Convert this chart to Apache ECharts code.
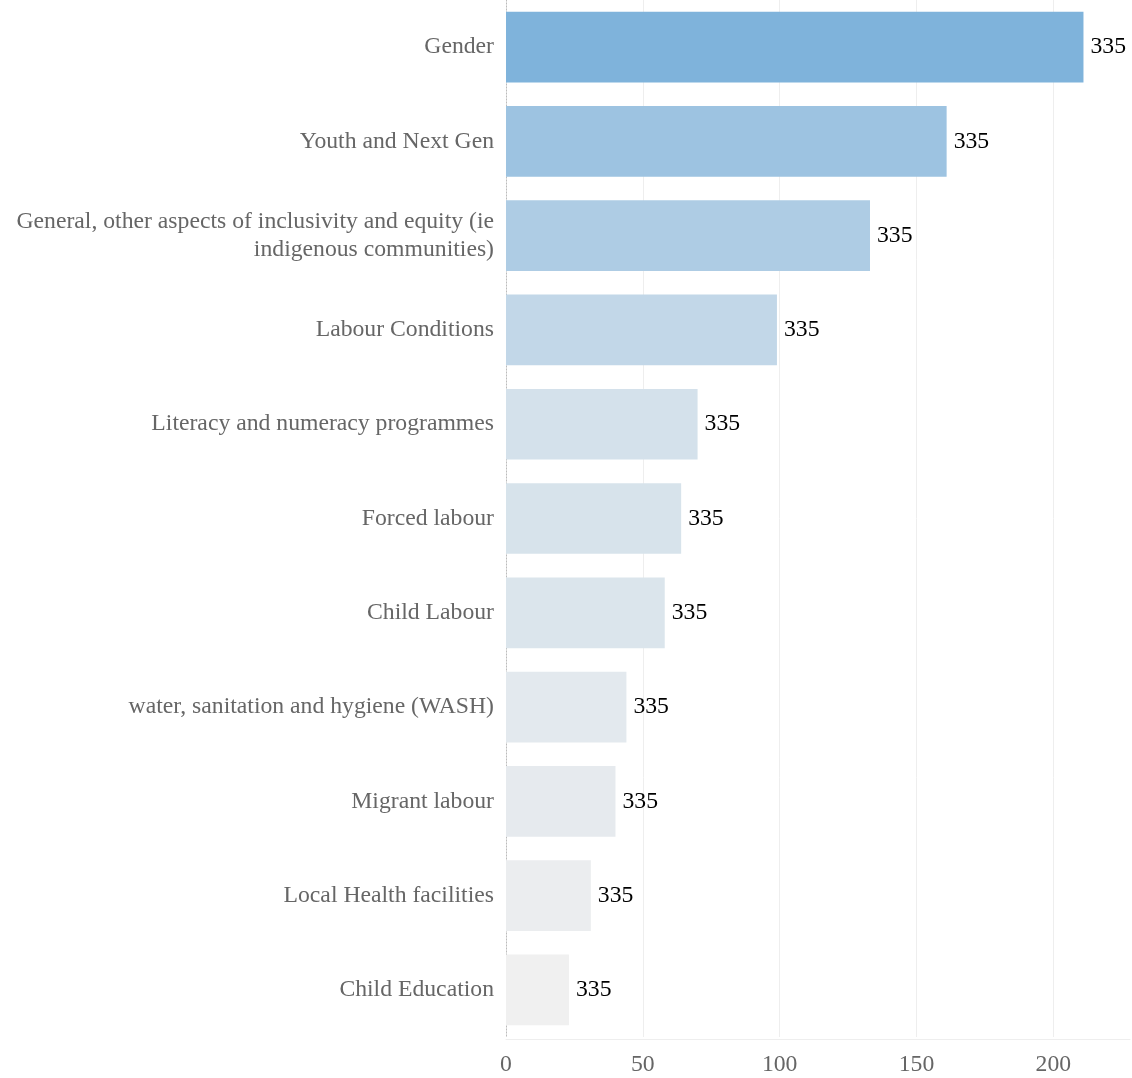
<!DOCTYPE html>
<html>
<head>
<meta charset="utf-8">
<title>Social topics</title>
<script src="https://cdn.jsdelivr.net/npm/echarts@6/dist/echarts.min.js"></script>
<style>
  html, body { margin: 0; padding: 0; background: #fff; }
  #chart { width: 1132px; height: 1078px; }
</style>
</head>
<body>
<div id="chart"></div>
<script>
// Topics, top to bottom
const categories = [
  'Gender',
  'Youth and Next Gen',
  'General, other aspects of inclusivity and equity (ie\nindigenous communities)',
  'Labour Conditions',
  'Literacy and numeracy programmes',
  'Forced labour',
  'Child Labour',
  'water, sanitation and hygiene (WASH)',
  'Migrant labour',
  'Local Health facilities',
  'Child Education'
];

// Bar lengths
const values = [211, 161, 133, 99, 70, 64, 58, 44, 40, 31, 23];

// Text printed at the end of each bar
const barLabels = ['335', '335', '335', '335', '335', '335', '335', '335', '335', '335', '335'];

// Value axis ticks
const xTicks = [0, 50, 100, 150, 200];

const chart = echarts.init(document.getElementById('chart'));
const font = '"Liberation Serif", "Times New Roman", serif';

chart.setOption({
  animation: false,
  grid: { left: 506, right: 2, top: -2, bottom: 41, containLabel: false },
  visualMap: {
    show: false,
    type: 'continuous',
    dimension: 0,
    min: Math.min(...values),
    max: Math.max(...values),
    inRange: { color: ['#f0f0f0', '#7fb3db'] }
  },
  xAxis: {
    type: 'value',
    min: 0,
    max: 228,
    interval: 50,
    offset: 2,
    axisLine: { show: true, lineStyle: { color: '#eeeeee', width: 1 } },
    axisTick: { show: false },
    splitLine: { show: true, showMaxLine: false, lineStyle: { color: '#eeeeee', width: 1 } },
    axisLabel: {
      color: '#666666',
      fontFamily: font,
      fontSize: 23.7,
      margin: 14,
      showMaxLabel: false,
      formatter: v => (xTicks.includes(v) ? String(v) : '')
    }
  },
  yAxis: {
    type: 'category',
    inverse: true,
    data: categories,
    axisLine: { show: true, lineStyle: { color: '#bbbbbb', type: [1, 2], width: 1 } },
    axisTick: { show: false },
    splitLine: { show: false },
    axisLabel: {
      color: '#666666',
      fontFamily: font,
      fontSize: 23.7,
      margin: 12,
      lineHeight: 28,
      align: 'right'
    }
  },
  series: [{
    type: 'bar',
    data: values,
    barCategoryGap: '25%',
    label: {
      show: true,
      position: 'right',
      distance: 7,
      color: '#000000',
      fontFamily: font,
      fontSize: 23.7,
      formatter: p => barLabels[p.dataIndex]
    }
  }]
});
</script>
</body>
</html>
